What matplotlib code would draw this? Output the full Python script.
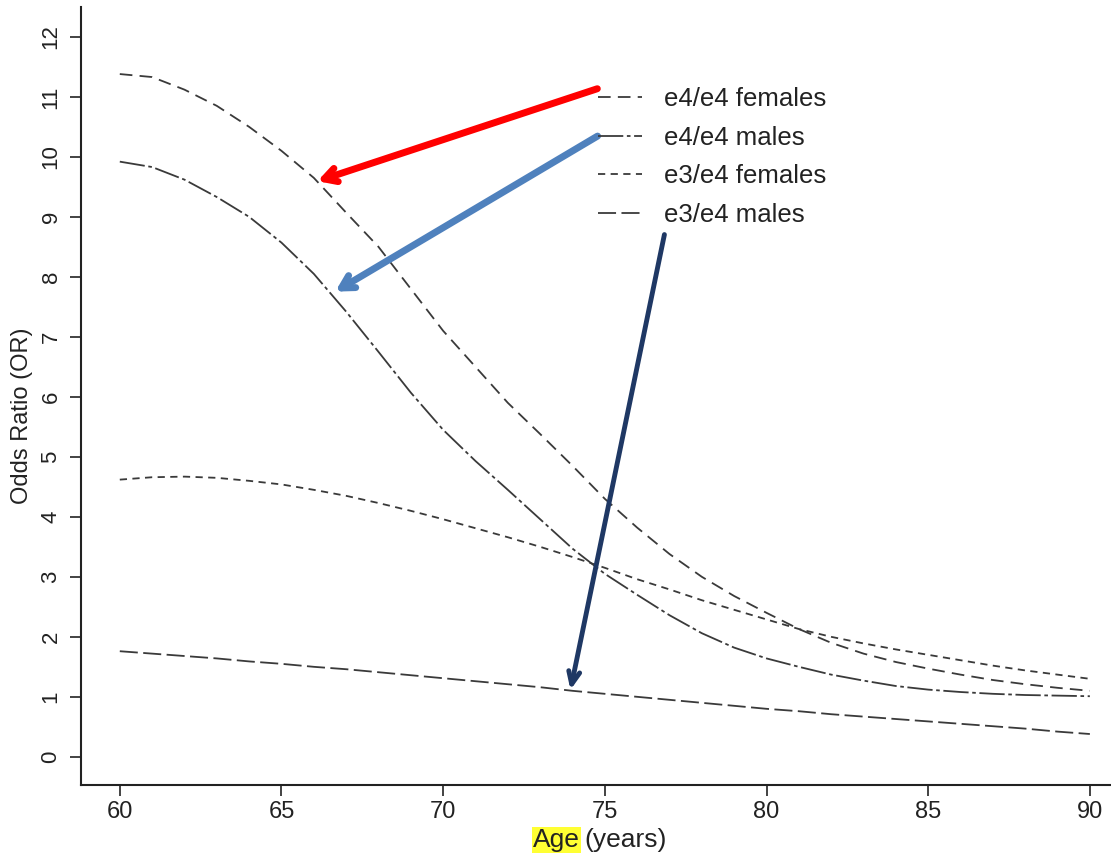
import matplotlib
matplotlib.use("Agg")
import matplotlib.pyplot as plt

plt.rcParams['font.family'] = ['Liberation Sans', 'DejaVu Sans']

# Data (age in years, odds ratio)
age = list(range(60, 91))
e4e4_f = [11.38, 11.33, 11.12, 10.85, 10.5, 10.1, 9.65, 9.07, 8.5, 7.8, 7.1,
          6.5, 5.9, 5.38, 4.85, 4.3, 3.82, 3.38, 3.0, 2.68, 2.4,
          2.13, 1.9, 1.72, 1.58, 1.47, 1.37, 1.28, 1.21, 1.15, 1.1]
e4e4_m = [9.92, 9.83, 9.62, 9.33, 9.0, 8.57, 8.05, 7.42, 6.75, 6.07, 5.45,
          4.93, 4.45, 3.96, 3.47, 3.05, 2.7, 2.36, 2.06, 1.82, 1.64,
          1.5, 1.37, 1.27, 1.18, 1.12, 1.08, 1.05, 1.03, 1.02, 1.01]
e3e4_f = [4.62, 4.66, 4.67, 4.65, 4.6, 4.54, 4.45, 4.35, 4.23, 4.1, 3.96,
          3.81, 3.66, 3.5, 3.33, 3.15, 2.96, 2.79, 2.61, 2.45, 2.29,
          2.13, 2.0, 1.89, 1.79, 1.7, 1.61, 1.52, 1.44, 1.37, 1.3]
e3e4_m = [1.76, 1.72, 1.68, 1.64, 1.59, 1.55, 1.5, 1.46, 1.41, 1.36, 1.31,
          1.26, 1.21, 1.16, 1.1, 1.05, 1.0, 0.95, 0.9, 0.85, 0.8,
          0.76, 0.71, 0.67, 0.63, 0.59, 0.55, 0.51, 0.47, 0.42, 0.38]

labels = ['e4/e4 females', 'e4/e4 males', 'e3/e4 females', 'e3/e4 males']
xticks = [60, 65, 70, 75, 80, 85, 90]
yticks = list(range(0, 13))

fig = plt.figure(figsize=(11.11, 8.57), dpi=100)
ax = fig.add_axes([0.0729, 0.084, 0.927, 0.908])

c = '#3a3a3a'
l1, = ax.plot(age, e4e4_f, color=c, lw=1.3, dashes=(7, 4))
l2, = ax.plot(age, e4e4_m, color=c, lw=1.3, dashes=(14, 2, 2, 2))
l3, = ax.plot(age, e3e4_f, color=c, lw=1.3, dashes=(4, 3))
l4, = ax.plot(age, e3e4_m, color=c, lw=1.3, dashes=(10, 3))

ax.set_xlim(58.8, 90.65)
ax.set_ylim(-0.47, 12.5)
ax.set_xticks(xticks)
ax.set_yticks(yticks)
ax.tick_params(axis='both', labelsize=17, length=8, width=1.2, colors='#222222')
ax.tick_params(axis='y', labelrotation=90, pad=6, labelsize=16)
for t in ax.get_yticklabels():
    t.set_va('center')
ax.spines['top'].set_visible(False)
ax.spines['right'].set_visible(False)
for s in ['left', 'bottom']:
    ax.spines[s].set_linewidth(1.5)
    ax.spines[s].set_color('#222222')

ax.set_ylabel('Odds Ratio (OR)', fontsize=17, color='#222222')
ax.yaxis.set_label_coords(-0.047, 0.475)

fig.text(0.522, 0.006, 'Age', fontsize=19, color='#222222', ha='right', va='bottom',
         bbox=dict(facecolor='#ffff33', edgecolor='none', pad=1))
fig.text(0.526, 0.006, '(years)', fontsize=19, color='#222222', ha='left', va='bottom')

leg = ax.legend([l1, l2, l3, l4], labels, loc='upper left', bbox_to_anchor=(0.502, 0.897),
                frameon=False, fontsize=18.5, handlelength=1.7, labelspacing=0.57,
                handletextpad=0.85, labelcolor='#222222', borderaxespad=0, borderpad=0)

# Arrows
ax.annotate('', xy=(66.03, 9.58), xytext=(74.85, 11.15),
            arrowprops=dict(arrowstyle='->,head_length=0.9,head_width=0.5', color='#ff0000', lw=5))
ax.annotate('', xy=(66.59, 7.73), xytext=(74.85, 10.37),
            arrowprops=dict(arrowstyle='->,head_length=0.9,head_width=0.5', color='#4f81bd', lw=5))
ax.annotate('', xy=(73.92, 1.07), xytext=(76.86, 8.75),
            arrowprops=dict(arrowstyle='->,head_length=0.9,head_width=0.4', color='#1f3864', lw=3.5))

fig.savefig('out.png', dpi=100)
